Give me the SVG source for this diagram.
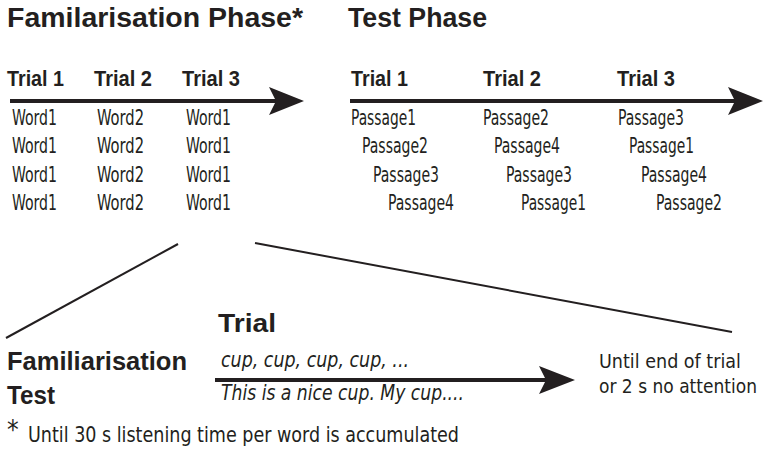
<svg xmlns="http://www.w3.org/2000/svg" width="769" height="451" viewBox="0 0 769 451">
<style>
text{font-family:"DejaVu Sans Condensed","Liberation Sans",sans-serif;fill:#231f20}
.h{font-family:"Liberation Sans","Open Sans",sans-serif;font-weight:bold}
.t1{font-size:27px}
.t2{font-size:22.5px}
.w{font-size:21px}
.it{font-style:italic;font-size:21px}
.ln{stroke:#231f20;fill:none}
.ah{fill:#231f20;stroke:none}
</style>
<rect width="769" height="451" fill="#ffffff"/>
<g id="connectors">
<line class="ln" x1="10" y1="101" x2="280" y2="101" stroke-width="4"/>
<path class="ah" d="M304,101 L269,87 L276,101 L269,115 Z"/>
<line class="ln" x1="350" y1="101" x2="738" y2="101" stroke-width="4"/>
<path class="ah" d="M763,101 L728,87 L735,101 L728,115 Z"/>
<line class="ln" x1="215" y1="380" x2="550" y2="380" stroke-width="4"/>
<path class="ah" d="M575,380 L539,366 L546,380 L539,394 Z"/>
<line class="ln" x1="6" y1="338" x2="178" y2="244" stroke-width="2"/>
<line class="ln" x1="255" y1="243" x2="732" y2="332" stroke-width="2"/>
</g>
<g id="familiarisation-phase">
<text class="h t1" x="7" y="27" textLength="296" lengthAdjust="spacingAndGlyphs">Familarisation Phase*</text>
<text class="h t2" x="7" y="86" textLength="57" lengthAdjust="spacingAndGlyphs">Trial 1</text>
<text class="h t2" x="94" y="86" textLength="58" lengthAdjust="spacingAndGlyphs">Trial 2</text>
<text class="h t2" x="182" y="86" textLength="58" lengthAdjust="spacingAndGlyphs">Trial 3</text>
<text class="w" x="12" y="125" textLength="45" lengthAdjust="spacingAndGlyphs">Word1</text>
<text class="w" x="12" y="153" textLength="45" lengthAdjust="spacingAndGlyphs">Word1</text>
<text class="w" x="12" y="182" textLength="45" lengthAdjust="spacingAndGlyphs">Word1</text>
<text class="w" x="12" y="210" textLength="45" lengthAdjust="spacingAndGlyphs">Word1</text>
<text class="w" x="97" y="125" textLength="47" lengthAdjust="spacingAndGlyphs">Word2</text>
<text class="w" x="97" y="153" textLength="47" lengthAdjust="spacingAndGlyphs">Word2</text>
<text class="w" x="97" y="182" textLength="47" lengthAdjust="spacingAndGlyphs">Word2</text>
<text class="w" x="97" y="210" textLength="47" lengthAdjust="spacingAndGlyphs">Word2</text>
<text class="w" x="186" y="125" textLength="45" lengthAdjust="spacingAndGlyphs">Word1</text>
<text class="w" x="186" y="153" textLength="45" lengthAdjust="spacingAndGlyphs">Word1</text>
<text class="w" x="186" y="182" textLength="45" lengthAdjust="spacingAndGlyphs">Word1</text>
<text class="w" x="186" y="210" textLength="45" lengthAdjust="spacingAndGlyphs">Word1</text>
</g>
<g id="test-phase">
<text class="h t1" x="348" y="27" textLength="139" lengthAdjust="spacingAndGlyphs">Test Phase</text>
<text class="h t2" x="351" y="86" textLength="57" lengthAdjust="spacingAndGlyphs">Trial 1</text>
<text class="h t2" x="483" y="86" textLength="58" lengthAdjust="spacingAndGlyphs">Trial 2</text>
<text class="h t2" x="617" y="86" textLength="58" lengthAdjust="spacingAndGlyphs">Trial 3</text>
<text class="w" x="351" y="125" textLength="65" lengthAdjust="spacingAndGlyphs">Passage1</text>
<text class="w" x="362" y="153" textLength="66" lengthAdjust="spacingAndGlyphs">Passage2</text>
<text class="w" x="373" y="182" textLength="66" lengthAdjust="spacingAndGlyphs">Passage3</text>
<text class="w" x="388" y="210" textLength="66" lengthAdjust="spacingAndGlyphs">Passage4</text>
<text class="w" x="483" y="125" textLength="66" lengthAdjust="spacingAndGlyphs">Passage2</text>
<text class="w" x="494" y="153" textLength="66" lengthAdjust="spacingAndGlyphs">Passage4</text>
<text class="w" x="506" y="182" textLength="66" lengthAdjust="spacingAndGlyphs">Passage3</text>
<text class="w" x="521" y="210" textLength="65" lengthAdjust="spacingAndGlyphs">Passage1</text>
<text class="w" x="618" y="125" textLength="66" lengthAdjust="spacingAndGlyphs">Passage3</text>
<text class="w" x="629" y="153" textLength="65" lengthAdjust="spacingAndGlyphs">Passage1</text>
<text class="w" x="641" y="182" textLength="66" lengthAdjust="spacingAndGlyphs">Passage4</text>
<text class="w" x="656" y="210" textLength="66" lengthAdjust="spacingAndGlyphs">Passage2</text>
</g>
<g id="familiarisation-test">
<text class="h" x="7" y="370" font-size="25" textLength="180" lengthAdjust="spacingAndGlyphs">Familiarisation</text>
<text class="h" x="7" y="404" font-size="25" textLength="48" lengthAdjust="spacingAndGlyphs">Test</text>
</g>
<g id="trial">
<text class="h" x="218" y="332" font-size="26.5" textLength="58" lengthAdjust="spacingAndGlyphs">Trial</text>
<text class="it" x="221" y="367" textLength="188" lengthAdjust="spacingAndGlyphs">cup, cup, cup, cup, ...</text>
<text class="it" x="221" y="400" textLength="243" lengthAdjust="spacingAndGlyphs">This is a nice cup. My cup....</text>
</g>
<g id="end-condition">
<text x="599" y="368" font-size="19" textLength="142" lengthAdjust="spacingAndGlyphs">Until end of trial</text>
<text x="599" y="393" font-size="19" textLength="158" lengthAdjust="spacingAndGlyphs">or 2 s no attention</text>
</g>
<g id="footnote">
<text x="7" y="439" font-size="26">*</text>
<text class="w" x="28" y="442" textLength="431" lengthAdjust="spacingAndGlyphs">Until 30 s listening time per word is accumulated</text>
</g>
</svg>
